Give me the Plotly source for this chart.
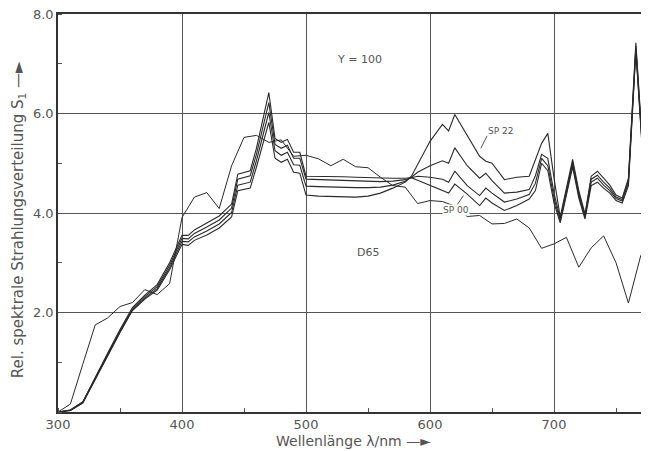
import plotly.graph_objects as go

# --- D65 (scaled to Y = 100) ---
wl_d65 = [300, 310, 320, 330, 340, 350, 360, 370, 380, 390,
          400, 410, 420, 430, 440, 450, 460, 470, 480, 490,
          500, 510, 520, 530, 540, 550, 560, 570, 580, 590,
          600, 610, 620, 630, 640, 650, 660, 670, 680, 690,
          700, 710, 720, 730, 740, 750, 760, 770, 780]
s_d65 = [0.00, 0.16, 0.96, 1.75, 1.89, 2.12, 2.20, 2.46, 2.36, 2.58,
         3.91, 4.32, 4.41, 4.09, 4.95, 5.52, 5.56, 5.42, 5.47, 5.14,
         5.16, 5.09, 4.95, 5.08, 4.93, 4.91, 4.72, 4.55, 4.52, 4.19,
         4.25, 4.23, 4.14, 3.93, 3.95, 3.78, 3.79, 3.88, 3.70, 3.29,
         3.38, 3.51, 2.91, 3.30, 3.54, 3.00, 2.19, 3.15, 2.99]

# --- simulators ---
wl_sim = [300, 310, 320, 330, 340, 350, 360, 370, 380, 390,
          400, 405, 410, 420, 430, 440, 445, 455, 460, 470,
          475, 480, 485, 490, 495, 500, 510, 520, 530, 540,
          550, 560, 570, 580, 585, 590, 600, 610, 615, 620,
          630, 640, 645, 650, 660, 670, 680, 685, 690, 695,
          700, 705, 710, 715, 720, 725, 730, 735, 740, 745,
          750, 755, 760, 766, 775, 780]

s_sp00 = [0.00, 0.04, 0.20, 0.70, 1.18, 1.66, 2.10, 2.35, 2.56, 3.00,
          3.55, 3.55, 3.66, 3.80, 3.94, 4.18, 4.78, 4.85, 5.30, 6.42,
          5.50, 5.42, 5.48, 5.22, 5.22, 4.74, 4.74, 4.73, 4.73, 4.72,
          4.71, 4.70, 4.70, 4.70, 4.71, 4.66, 4.55, 4.45, 4.40, 4.58,
          4.38, 4.15, 4.30, 4.20, 4.05, 4.15, 4.28, 4.45, 5.00, 4.85,
          4.20, 3.80, 4.35, 4.92, 4.30, 3.88, 4.55, 4.62, 4.50, 4.40,
          4.25, 4.20, 4.55, 7.25, 3.80, 3.20]
s_sp_a = [0.00, 0.04, 0.20, 0.69, 1.16, 1.63, 2.07, 2.32, 2.52, 2.95,
          3.49, 3.48, 3.59, 3.72, 3.86, 4.10, 4.68, 4.75, 5.18, 6.22,
          5.38, 5.30, 5.36, 5.10, 5.10, 4.68, 4.67, 4.66, 4.66, 4.65,
          4.64, 4.63, 4.64, 4.67, 4.71, 4.74, 4.72, 4.68, 4.62, 4.84,
          4.55, 4.35, 4.50, 4.40, 4.22, 4.28, 4.37, 4.60, 5.10, 4.95,
          4.30, 3.84, 4.40, 4.98, 4.35, 3.92, 4.62, 4.70, 4.56, 4.45,
          4.29, 4.24, 4.60, 7.30, 3.85, 3.25]
s_sp_b = [0.00, 0.03, 0.19, 0.67, 1.14, 1.61, 2.05, 2.29, 2.48, 2.90,
          3.43, 3.42, 3.52, 3.64, 3.78, 4.01, 4.56, 4.62, 5.05, 6.02,
          5.25, 5.16, 5.22, 4.97, 4.96, 4.54, 4.53, 4.52, 4.52, 4.51,
          4.51, 4.52, 4.56, 4.64, 4.72, 4.82, 4.95, 5.05, 5.00, 5.31,
          4.95, 4.70, 4.80, 4.65, 4.40, 4.42, 4.47, 4.75, 5.18, 5.10,
          4.40, 3.88, 4.45, 5.03, 4.40, 3.95, 4.68, 4.76, 4.62, 4.50,
          4.32, 4.27, 4.65, 7.35, 3.90, 3.30]
s_sp22 = [0.00, 0.03, 0.18, 0.66, 1.13, 1.60, 2.04, 2.27, 2.45, 2.86,
          3.37, 3.35, 3.45, 3.56, 3.70, 3.92, 4.45, 4.50, 4.92, 5.82,
          5.10, 5.02, 5.08, 4.82, 4.80, 4.36, 4.34, 4.33, 4.32, 4.32,
          4.34, 4.40, 4.50, 4.62, 4.74, 4.98, 5.44, 5.78, 5.65, 5.98,
          5.55, 5.14, 5.04, 5.00, 4.67, 4.72, 4.74, 5.05, 5.40, 5.60,
          4.70, 3.92, 4.50, 5.08, 4.45, 3.98, 4.74, 4.84, 4.70, 4.56,
          4.36, 4.30, 4.70, 7.42, 3.95, 3.35]

x_ticks = [300, 400, 500, 600, 700]
y_ticks = [2, 4, 6, 8]
y_tick_text = ["2.0", "4.0", "6.0", "8.0"]

FONT = "DejaVu Sans"
INK = "#2a2a2a"
TXT = "#555555"

fig = go.Figure()
fig.add_trace(go.Scatter(x=wl_d65, y=s_d65, mode="lines", name="D65",
                         line=dict(color=INK, width=1)))
for name, vals in [("SP 00", s_sp00), ("SP a", s_sp_a), ("SP b", s_sp_b), ("SP 22", s_sp22)]:
    fig.add_trace(go.Scatter(x=wl_sim, y=vals, mode="lines", name=name,
                             line=dict(color=INK, width=1.1)))

# page body has an 8 px margin, so the figure is 16 px smaller than the window
fig.update_layout(
    width=641, height=443,
    margin=dict(l=50, r=0, t=6, b=39),
    paper_bgcolor="white", plot_bgcolor="white",
    showlegend=False,
    font=dict(family=FONT, size=13, color=TXT),
    xaxis=dict(range=[300, 776.6], tickvals=x_ticks, ticktext=[str(v) for v in x_ticks],
               showgrid=True, gridcolor="#555555", gridwidth=1,
               showline=True, linecolor="#333333", linewidth=1.5, mirror=True,
               ticks="", zeroline=False, ticklabeloverflow="allow",
               minor=dict(ticks="inside", ticklen=4, dtick=50, tick0=300,
                          tickcolor="#555555", showgrid=False),
               tickfont=dict(size=13, color=TXT)),
    yaxis=dict(range=[0, 8], tickvals=y_ticks, ticktext=y_tick_text,
               showgrid=True, gridcolor="#555555", gridwidth=1,
               showline=True, linecolor="#333333", linewidth=1.5,
               ticks="", zeroline=False, ticklabeloverflow="allow",
               minor=dict(ticks="inside", ticklen=4, dtick=1, tick0=0,
                          tickcolor="#555555", showgrid=False),
               tickfont=dict(size=13, color=TXT)),
)

fig.add_annotation(text="Y = 100", x=543, y=7.09, xref="x", yref="y",
                   showarrow=False, font=dict(size=11, color=TXT))
fig.add_annotation(text="D65", x=550, y=3.21, xref="x", yref="y",
                   showarrow=False, font=dict(size=11, color=TXT))
fig.add_annotation(text="SP 22", x=657, y=5.65, xref="x", yref="y",
                   showarrow=False, font=dict(size=9, color=TXT))
fig.add_annotation(text="SP 00", x=621, y=4.06, xref="x", yref="y",
                   showarrow=False, bgcolor="white", borderpad=0,
                   font=dict(size=9, color=TXT))
# leader lines for the SP labels
fig.add_shape(type="line", x0=641, y0=5.3, x1=646, y1=5.55, xref="x", yref="y",
              line=dict(color=INK, width=0.8))
fig.add_shape(type="line", x0=627, y0=4.35, x1=622, y1=4.17, xref="x", yref="y",
              line=dict(color=INK, width=0.8))

fig.add_annotation(text="Wellenlänge λ/nm —►", x=0.5, y=-0.073, xref="paper", yref="paper",
                   yanchor="middle", showarrow=False, font=dict(size=14, color=TXT))
fig.add_annotation(text="Rel. spektrale Strahlungsverteilung S<sub>1</sub> —►",
                   x=-0.067, y=0.483, xref="paper", yref="paper", textangle=-90,
                   xanchor="center", yanchor="middle",
                   showarrow=False, font=dict(size=15, color=TXT))

fig.write_html("out.html")
